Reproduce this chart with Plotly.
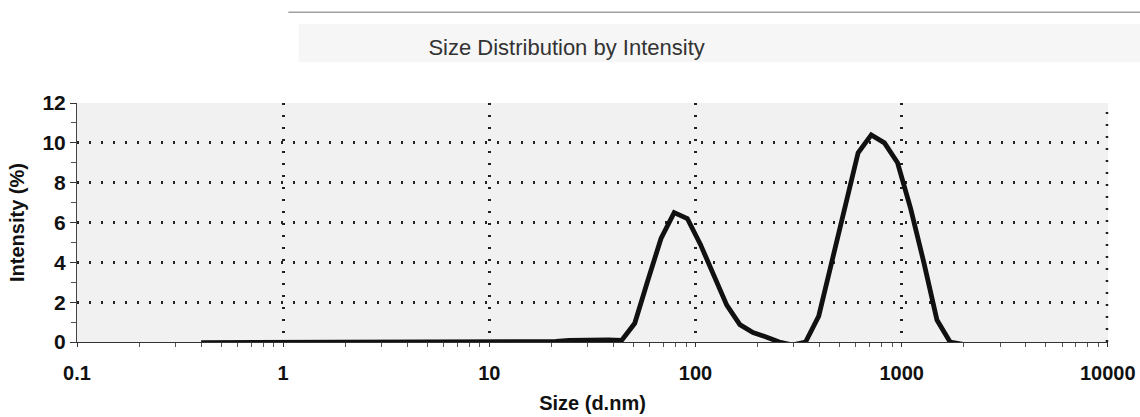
import plotly.graph_objects as go

# Size bins (d.nm) and intensity (%)
size_nm = [0.4, 0.4632, 0.5365, 0.6213, 0.7195, 0.8332, 0.9649, 1.117, 1.294, 1.499,
           1.736, 2.010, 2.328, 2.696, 3.122, 3.615, 4.187, 4.849, 5.615, 6.503,
           7.531, 8.721, 10.10, 11.70, 13.54, 15.69, 18.17, 21.04, 24.36, 28.21,
           32.67, 37.84, 43.82, 50.75, 58.77, 68.06, 78.82, 91.28, 105.7, 122.4,
           141.8, 164.2, 190.1, 220.2, 255.0, 295.3, 342.0, 396.1, 458.7, 531.2,
           615.1, 712.4, 825.0, 955.4, 1106, 1281, 1484, 1718, 1990, 2305,
           2669, 3091, 3580, 4145, 4801, 5560, 6439, 7456, 8635, 10000]
intensity = [-0.03, -0.03, -0.03, -0.03, -0.03, -0.03, -0.03, -0.03, -0.03, -0.03,
             -0.03, -0.03, -0.03, -0.03, -0.03, -0.03, -0.03, -0.03, -0.03, -0.03,
             -0.03, -0.03, -0.03, -0.03, -0.03, -0.03, -0.02, 0.03, 0.08, 0.1,
             0.1, 0.1, 0.08, 0.94, 3.1, 5.2, 6.5, 6.2, 4.9, 3.4,
             1.85, 0.87, 0.48, 0.25, 0.0, -0.15, 0.0, 1.3, 4.0, 6.8,
             9.5, 10.4, 10.0, 9.0, 6.7, 4.0, 1.1, 0.0, -0.12, -0.12,
             -0.12, -0.12, -0.12, -0.12, -0.12, -0.12, -0.12, -0.12, -0.12, -0.12]

x_tickvals = [0.1, 1, 10, 100, 1000, 10000]
x_ticktext = ["0.1", "1", "10", "100", "1000", "10000"]
y_tickvals = [0, 2, 4, 6, 8, 10, 12]

fig = go.Figure()
fig.add_trace(go.Scatter(
    x=size_nm, y=intensity, mode="lines",
    line=dict(color="#111111", width=4.8),
    showlegend=False, hoverinfo="x+y",
))

font_family = "Liberation Sans, Arial, sans-serif"
grid_dash = "2px,10px"

fig.update_layout(
    width=1140, height=417,
    margin=dict(l=77, r=32, t=103, b=75),
    paper_bgcolor="#ffffff",
    plot_bgcolor="#f1f1f1",
    title=dict(text="Size Distribution by Intensity", x=0.497, xanchor="center",
               y=0.887, yanchor="middle",
               font=dict(family=font_family, size=22, color="#333333")),
    xaxis=dict(
        type="log", range=[-1, 4.001], automargin=False,
        tickmode="array", tickvals=x_tickvals, ticktext=x_ticktext,
        tickfont=dict(family=font_family, size=20, color="#111", weight="bold"),
        ticks="outside", ticklen=4, tickcolor="#333",
        showline=True, linecolor="#333", linewidth=1,
        showgrid=True, gridcolor="#222", gridwidth=2.5, griddash=grid_dash,
        zeroline=False,
        minor=dict(ticks="outside", ticklen=4, tickcolor="#555", dtick="D1", showgrid=False),
        title=dict(text="Size (d.nm)", standoff=12,
                   font=dict(family=font_family, size=20, color="#111", weight="bold")),
        ticklabelstandoff=9,
    ),
    yaxis=dict(
        range=[0, 12.001], automargin=False,
        tickmode="array", tickvals=y_tickvals,
        tickfont=dict(family=font_family, size=21, color="#111", weight="bold"),
        ticks="outside", ticklen=6, tickcolor="#333",
        showline=True, linecolor="#444", linewidth=1,
        showgrid=True, gridcolor="#222", gridwidth=2.5, griddash=grid_dash,
        zeroline=False,
        minor=dict(ticks="outside", ticklen=5, tickcolor="#555", dtick=1, showgrid=False),
        title=dict(text="Intensity (%)", standoff=12,
                   font=dict(family=font_family, size=20, color="#111", weight="bold")),
    ),
    shapes=[
        dict(type="rect", xref="paper", yref="paper", x0=0.215, x1=1.04, y0=1.17, y1=1.33,
             fillcolor="#f6f6f6", line=dict(width=0), layer="below"),
        dict(type="line", xref="paper", yref="paper", x0=0.205, x1=1.04, y0=1.38, y1=1.38,
             line=dict(color="#a0a0a0", width=1.5)),
        # right-edge dotted gridline (at the last x tick)
        dict(type="line", xref="x domain", yref="y domain", x0=0.999, x1=0.999, y0=0, y1=1,
             line=dict(color="#222", width=2.5, dash=grid_dash)),
    ],
)

fig.write_html("out.html", config={"displayModeBar": False},
               post_script="document.body.style.margin='0';")
